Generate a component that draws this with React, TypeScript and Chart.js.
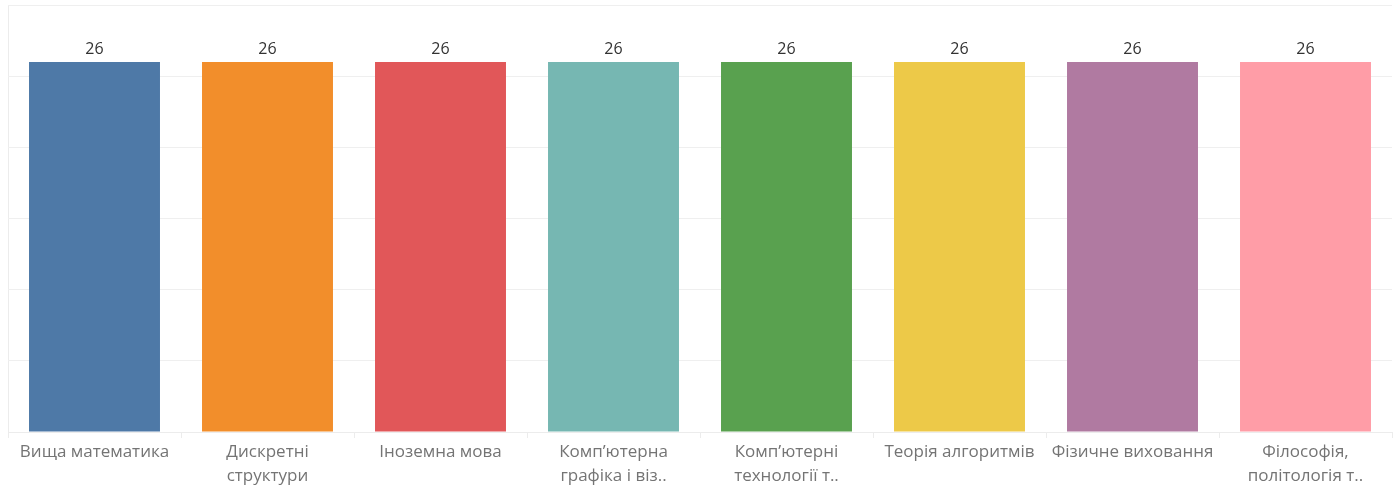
import React, { useEffect, useRef } from "react";
import { Chart, registerables } from "chart.js";

Chart.register(...registerables);

const categories: string[][] = [
  ["Вища математика"],
  ["Дискретні", "структури"],
  ["Іноземна мова"],
  ["Комп’ютерна", "графіка і віз.."],
  ["Комп’ютерні", "технології т.."],
  ["Теорія алгоритмів"],
  ["Фізичне виховання"],
  ["Філософія,", "політологія т.."],
];
const values: number[] = [26, 26, 26, 26, 26, 26, 26, 26];
const colors: string[] = [
  "#4e79a7",
  "#f28e2b",
  "#e15759",
  "#76b7b2",
  "#59a14f",
  "#edc948",
  "#b07aa1",
  "#ff9da7",
];
const yTicks: number[] = [0, 5, 10, 15, 20, 25, 30];

const FONT = "'Open Sans', 'Noto Sans', sans-serif";

const valueLabels = {
  id: "valueLabels",
  afterDatasetsDraw(chart: any) {
    const ctx = chart.ctx;
    const meta = chart.getDatasetMeta(0);
    ctx.save();
    ctx.fillStyle = "#333333";
    ctx.font = `16px ${FONT}`;
    ctx.textAlign = "center";
    ctx.textBaseline = "bottom";
    meta.data.forEach((bar: any, i: number) => {
      ctx.fillText(String(values[i]), bar.x, bar.y - 4);
    });
    ctx.restore();
  },
};

export default function App() {
  const ref = useRef<HTMLCanvasElement>(null);
  useEffect(() => {
    if (!ref.current) return;
    const chart = new Chart(ref.current, {
      type: "bar",
      data: {
        labels: categories,
        datasets: [
          {
            data: values,
            backgroundColor: colors,
            categoryPercentage: 1,
            barPercentage: 0.757,
          },
        ],
      },
      plugins: [valueLabels],
      options: {
        animation: false,
        responsive: true,
        maintainAspectRatio: false,
        layout: { padding: { left: 8, right: 7, top: 5, bottom: 0 } },
        plugins: {
          legend: { display: false },
          tooltip: { enabled: false },
        },
        scales: {
          x: {
            offset: true,
            afterFit: (scale: any) => {
              scale.height = 56;
            },
            grid: {
              offset: true,
              drawOnChartArea: true,
              color: (c: any) =>
                c.index === 0 || c.index === categories.length ? "#ececec" : "rgba(0,0,0,0)",
              tickColor: "#ececec",
              tickLength: 6,
            },
            border: { display: true, color: "#ececec" },
            ticks: {
              autoSkip: false,
              maxRotation: 0,
              padding: 2,
              color: "#747474",
              font: { family: FONT, size: 17, lineHeight: "24px" },
            },
          },
          y: {
            min: 0,
            max: 30,
            afterBuildTicks: (axis: any) => {
              axis.ticks = yTicks.map((v) => ({ value: v }));
            },
            ticks: { display: false },
            grid: { color: "#efefef", drawTicks: false },
            border: { display: false },
          },
        },
      },
    });
    return () => chart.destroy();
  }, []);
  return (
    <div style={{ position: "fixed", left: 0, top: 0, width: 1399, height: 488, background: "#fff" }}>
      <canvas ref={ref} />
    </div>
  );
}
